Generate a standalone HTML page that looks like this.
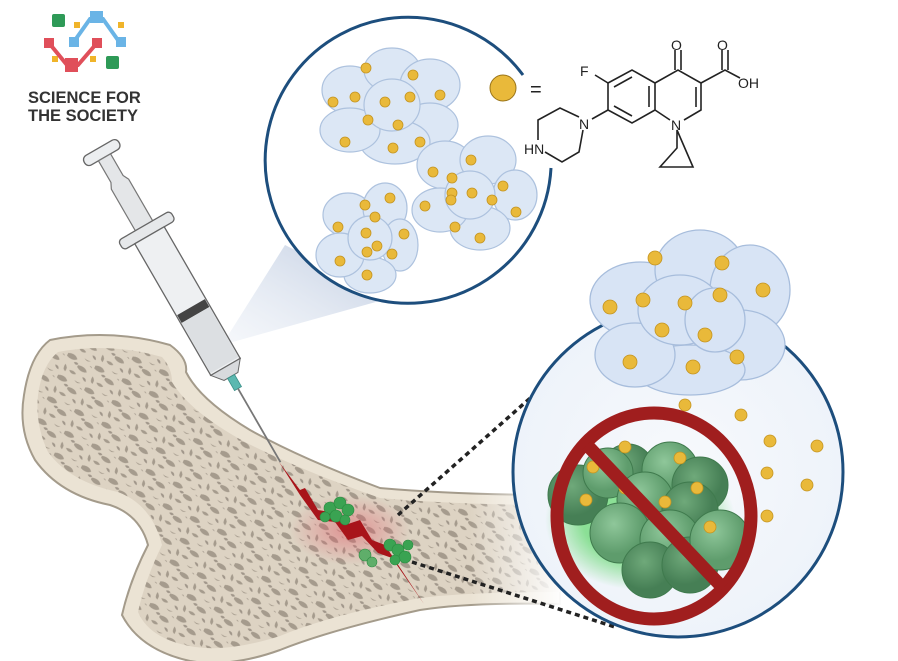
<!DOCTYPE html>
<html><head><meta charset="utf-8"><style>
html,body{margin:0;padding:0;background:#fff;}
svg{display:block;}
text{font-family:"Liberation Sans",sans-serif;}
</style></head><body>
<svg width="898" height="661" viewBox="0 0 898 661" xmlns="http://www.w3.org/2000/svg">
<defs>
<radialGradient id="rc" cx="0.5" cy="0.5" r="0.5"><stop offset="0" stop-color="#f7f9fc"/><stop offset="1" stop-color="#eef3fa"/></radialGradient>
<linearGradient id="cone" x1="1" y1="0" x2="0" y2="1"><stop offset="0" stop-color="#b9c7de" stop-opacity="0.9"/><stop offset="1" stop-color="#e8edf5" stop-opacity="0.4"/></linearGradient>
<linearGradient id="fade" x1="0" y1="0" x2="1" y2="0"><stop offset="0" stop-color="#fff" stop-opacity="0"/><stop offset="1" stop-color="#fff" stop-opacity="1"/></linearGradient>
<radialGradient id="glow"><stop offset="0.6" stop-color="#5fd66a" stop-opacity="0.7"/><stop offset="1" stop-color="#5fd66a" stop-opacity="0"/></radialGradient>
<radialGradient id="gc" cx="0.4" cy="0.35"><stop offset="0" stop-color="#8fc79a"/><stop offset="1" stop-color="#5e9c6c"/></radialGradient>
<radialGradient id="gd" cx="0.4" cy="0.35"><stop offset="0" stop-color="#6fa97a"/><stop offset="1" stop-color="#467f55"/></radialGradient>
<radialGradient id="red"><stop offset="0" stop-color="#e05060" stop-opacity="0.5"/><stop offset="1" stop-color="#e05060" stop-opacity="0"/></radialGradient>
<pattern id="tex" width="30" height="24" patternUnits="userSpaceOnUse" patternTransform="rotate(25)">
<rect width="30" height="24" fill="#ddd3c3"/>
<path d="M1 3 q7 -3 11 2 q-4 4 -11 1z M15 10 q8 -2 11 3 q-5 3 -11 -1z M3 14 q4 2 3 7 q-4 -1 -3 -7z M18 1 q4 1 7 0 q-3 3 -7 0z M9 18 q5 -2 8 1 q-4 3 -8 -1z" fill="#a59b8d"/>
<path d="M10 9 q3 -2 5 0 q-2 3 -5 0z M24 19 q4 -1 5 3 q-3 0 -5 -3z M26 6 q2 -1 3 1z" fill="#a0968a"/>
</pattern>
</defs>

<!-- logo -->
<rect x="52" y="14" width="13" height="13" rx="2" fill="#2e9a57"/>
<rect x="74" y="22" width="6" height="6" fill="#f0b42a"/>
<rect x="118" y="22" width="6" height="6" fill="#f0b42a"/>
<rect x="52" y="56" width="6" height="6" fill="#f0b42a"/>
<rect x="90" y="56" width="6" height="6" fill="#f0b42a"/>
<rect x="106" y="56" width="13" height="13" rx="2" fill="#2e9a57"/>
<path d="M73 43 L90 19 L103 19 L120 43" stroke="#6ab4e6" stroke-width="4" fill="none"/>
<rect x="90" y="11" width="13" height="12" fill="#6ab4e6"/>
<rect x="69" y="37" width="10" height="10" fill="#6ab4e6"/>
<rect x="116" y="37" width="10" height="10" fill="#6ab4e6"/>
<path d="M49 43 L67 65 L78 65 L97 43" stroke="#e04f5a" stroke-width="4" fill="none"/>
<rect x="44" y="38" width="10" height="10" fill="#e04f5a"/>
<rect x="92" y="38" width="10" height="10" fill="#e04f5a"/>
<rect x="65" y="58" width="13" height="14" fill="#e04f5a"/>
<text x="28" y="103" font-size="16.5" font-weight="bold" fill="#333">SCIENCE FOR</text>
<text x="28" y="121" font-size="16.5" font-weight="bold" fill="#333">THE SOCIETY</text>

<!-- cone -->
<polygon points="285,245 390,298 222,345" fill="url(#cone)"/>

<!-- bone -->
<path d="M50 340 Q110 328 170 345 Q188 358 186 372 Q200 400 250 430 Q300 458 380 488 Q460 495 560 495 L560 604 Q470 602 420 610 Q330 630 280 650 Q230 668 190 661 Q140 650 122 615 Q130 580 148 545 Q140 515 110 505 Q60 495 35 460 Q18 430 24 395 Q30 355 50 340Z" fill="#ebe3d4" stroke="#a49b8b" stroke-width="2"/>
<path d="M58 352 Q110 342 162 357 Q172 368 172 382 Q190 412 245 442 Q300 470 380 498 Q460 505 560 505 L560 592 Q470 592 420 598 Q330 615 280 636 Q230 652 195 647 Q150 640 138 612 Q145 580 162 545 Q152 505 118 492 Q70 482 48 452 Q35 425 38 395 Q42 365 58 352Z" fill="url(#tex)"/>
<rect x="470" y="480" width="95" height="140" fill="url(#fade)"/>
<!-- crack -->
<ellipse cx="350" cy="530" rx="60" ry="35" fill="url(#red)"/>
<path d="M279 462 L300 490 L305 488 L318 510 L330 512 L345 525 L360 520 L372 540 L385 545 L424 604 L392 558 L378 553 L362 536 L348 540 L335 522 L318 520 L300 495 Z" fill="#a8141a"/>
<g fill="#3aa352" stroke="#2b8a40" stroke-width="0.6">
<circle cx="330" cy="508" r="6"/><circle cx="340" cy="503" r="6"/><circle cx="348" cy="510" r="6"/><circle cx="336" cy="516" r="6"/><circle cx="345" cy="520" r="5"/><circle cx="325" cy="517" r="5"/>
<circle cx="390" cy="545" r="6"/><circle cx="398" cy="550" r="6"/><circle cx="405" cy="557" r="6"/><circle cx="395" cy="560" r="5"/><circle cx="408" cy="545" r="5"/>
<circle cx="365" cy="555" r="6" fill="#5fae6a"/><circle cx="372" cy="562" r="5" fill="#5fae6a"/>
</g>

<!-- syringe -->
<g transform="translate(102,153) rotate(-30)">
<rect x="-20" y="-6" width="40" height="11" rx="5" fill="#eceef0" stroke="#666" stroke-width="1.3"/>
<path d="M-7 5 L7 5 L7 30 L10 36 L10 90 L-10 90 L-10 36 L-7 30Z" fill="#e4e6e8" stroke="#777" stroke-width="1.2"/>
<rect x="-30" y="84" width="60" height="11" rx="4" fill="#e6e8ea" stroke="#666" stroke-width="1.3"/>
<rect x="-17" y="95" width="34" height="152" fill="#eef0f2" stroke="#666" stroke-width="1.3"/>
<rect x="-16" y="178" width="32" height="9" fill="#444"/>
<rect x="-16" y="187" width="32" height="58" fill="#dcdfe2"/>
<polygon points="-17,247 17,247 8,258 -8,258" fill="#d8dadd" stroke="#666"/>
<rect x="-4" y="258" width="8" height="14" fill="#5cb8b0" stroke="#3b8f88" stroke-width="0.8"/>
<line x1="0" y1="272" x2="0" y2="357" stroke="#777" stroke-width="1.8"/>
</g>

<!-- dotted lines -->
<line x1="398" y1="515" x2="545" y2="385" stroke="#222" stroke-width="3.5" stroke-dasharray="5,4"/>
<line x1="412" y1="562" x2="615" y2="627" stroke="#222" stroke-width="3.5" stroke-dasharray="5,4"/>

<!-- top circle -->
<circle cx="408" cy="160" r="142" fill="#fff"/>
<path d="M551 168 A143 143 0 1 1 523 75" fill="none" stroke="#1d4e7d" stroke-width="3"/>
<g fill="#dbe6f5" stroke="#a9bfdd" stroke-width="1.2" opacity="0.95">
<ellipse cx="350" cy="90" rx="28" ry="24"/><ellipse cx="392" cy="70" rx="28" ry="22"/><ellipse cx="430" cy="85" rx="30" ry="26"/><ellipse cx="430" cy="125" rx="28" ry="22"/><ellipse cx="395" cy="142" rx="35" ry="22"/><ellipse cx="350" cy="130" rx="30" ry="22"/><ellipse cx="392" cy="105" rx="28" ry="26"/>
<ellipse cx="445" cy="165" rx="28" ry="24"/><ellipse cx="488" cy="160" rx="28" ry="24"/><ellipse cx="515" cy="195" rx="22" ry="25"/><ellipse cx="480" cy="228" rx="30" ry="22"/><ellipse cx="440" cy="210" rx="28" ry="22"/><ellipse cx="470" cy="195" rx="25" ry="24"/>
<ellipse cx="348" cy="215" rx="25" ry="22"/><ellipse cx="385" cy="208" rx="22" ry="25"/><ellipse cx="400" cy="245" rx="18" ry="26"/><ellipse cx="370" cy="275" rx="26" ry="18"/><ellipse cx="340" cy="255" rx="24" ry="22"/><ellipse cx="370" cy="238" rx="22" ry="22"/>
</g>
<g fill="#e9b93a" stroke="#c49420" stroke-width="0.8">
<circle cx="366" cy="68" r="5"/><circle cx="413" cy="75" r="5"/><circle cx="333" cy="102" r="5"/><circle cx="355" cy="97" r="5"/><circle cx="385" cy="102" r="5"/><circle cx="410" cy="97" r="5"/><circle cx="440" cy="95" r="5"/><circle cx="368" cy="120" r="5"/><circle cx="398" cy="125" r="5"/><circle cx="345" cy="142" r="5"/><circle cx="393" cy="148" r="5"/><circle cx="420" cy="142" r="5"/>
<circle cx="471" cy="160" r="5"/><circle cx="433" cy="172" r="5"/><circle cx="452" cy="178" r="5"/><circle cx="503" cy="186" r="5"/><circle cx="452" cy="193" r="5"/><circle cx="472" cy="193" r="5"/><circle cx="425" cy="206" r="5"/><circle cx="451" cy="200" r="5"/><circle cx="492" cy="200" r="5"/><circle cx="516" cy="212" r="5"/><circle cx="455" cy="227" r="5"/><circle cx="480" cy="238" r="5"/>
<circle cx="365" cy="205" r="5"/><circle cx="390" cy="198" r="5"/><circle cx="338" cy="227" r="5"/><circle cx="375" cy="217" r="5"/><circle cx="366" cy="233" r="5"/><circle cx="404" cy="234" r="5"/><circle cx="377" cy="246" r="5"/><circle cx="367" cy="252" r="5"/><circle cx="392" cy="254" r="5"/><circle cx="340" cy="261" r="5"/><circle cx="367" cy="275" r="5"/>
</g>

<!-- molecule -->
<circle cx="503" cy="88" r="13" fill="#e9b93a" stroke="#9a7418"/>
<text x="530" y="96" font-size="20" fill="#222">=</text>
<g stroke="#222" stroke-width="1.6" fill="none">
<path d="M608 83 L632 70 L655 83 L655 110 L632 123 L608 110 Z"/>
<path d="M614 87 L632 77 M649 86 L649 107 M614 106 L632 116"/>
<path d="M655 83 L678 70 L701 83 L701 110 L684 120 M670 120 L655 110"/>
<path d="M696 87 L696 107"/>
<path d="M675 70 L675 50 M681 70 L681 50"/>
<path d="M701 83 L725 70 L740 78 M722 70 L722 50 M728 70 L728 50"/>
<path d="M608 83 L595 75"/>
<path d="M608 110 L592 119"/>
<path d="M579 117 L560 108 L538 120 L538 140 M545 152 L562 162 L579 152 L583 130"/>
<path d="M677 130 L677 148 L660 167 L693 167 Z"/>
</g>
<g font-size="14" fill="#222">
<text x="580" y="76">F</text>
<text x="671" y="50">O</text>
<text x="717" y="50">O</text>
<text x="738" y="88">OH</text>
<text x="671" y="130">N</text>
<text x="579" y="129">N</text>
<text x="524" y="154">HN</text>
</g>

<!-- right circle -->
<circle cx="678" cy="472" r="165" fill="url(#rc)" stroke="#1d4e7d" stroke-width="3"/>
<!-- flower -->
<g fill="#d8e4f5" stroke="#a7bddc" stroke-width="1.3">
<ellipse cx="640" cy="300" rx="50" ry="38"/><ellipse cx="700" cy="270" rx="45" ry="40"/><ellipse cx="750" cy="290" rx="40" ry="45"/><ellipse cx="740" cy="345" rx="45" ry="35"/><ellipse cx="690" cy="370" rx="55" ry="25"/><ellipse cx="635" cy="355" rx="40" ry="32"/>
<ellipse cx="680" cy="310" rx="42" ry="35"/><ellipse cx="715" cy="320" rx="30" ry="32"/>
</g>
<g fill="#e9b93a" stroke="#c49420" stroke-width="0.8">
<circle cx="655" cy="258" r="7"/><circle cx="722" cy="263" r="7"/><circle cx="610" cy="307" r="7"/><circle cx="643" cy="300" r="7"/><circle cx="685" cy="303" r="7"/><circle cx="720" cy="295" r="7"/><circle cx="763" cy="290" r="7"/><circle cx="662" cy="330" r="7"/><circle cx="705" cy="335" r="7"/><circle cx="630" cy="362" r="7"/><circle cx="693" cy="367" r="7"/><circle cx="737" cy="357" r="7"/>
<circle cx="685" cy="405" r="6"/><circle cx="741" cy="415" r="6"/><circle cx="770" cy="441" r="6"/><circle cx="817" cy="446" r="6"/><circle cx="767" cy="473" r="6"/><circle cx="807" cy="485" r="6"/><circle cx="767" cy="516" r="6"/>
</g>
<!-- bacteria -->
<ellipse cx="640" cy="520" rx="95" ry="70" fill="url(#glow)"/>
<g stroke="#3f7a4d" stroke-width="1">
<circle cx="628" cy="470" r="26" fill="url(#gd)"/><circle cx="578" cy="495" r="30" fill="url(#gd)"/><circle cx="608" cy="473" r="25" fill="url(#gc)"/><circle cx="670" cy="470" r="28" fill="url(#gc)"/><circle cx="700" cy="485" r="28" fill="url(#gd)"/>
<circle cx="645" cy="500" r="28" fill="url(#gc)"/><circle cx="690" cy="510" r="28" fill="url(#gd)"/>
<circle cx="620" cy="533" r="30" fill="url(#gc)"/><circle cx="670" cy="540" r="30" fill="url(#gc)"/>
<circle cx="650" cy="570" r="28" fill="url(#gd)"/><circle cx="690" cy="565" r="28" fill="url(#gd)"/><circle cx="720" cy="540" r="30" fill="url(#gc)"/>
</g>
<g fill="#e9b93a" stroke="#c49420" stroke-width="0.8">
<circle cx="625" cy="447" r="6"/><circle cx="680" cy="458" r="6"/><circle cx="593" cy="467" r="6"/><circle cx="625" cy="488" r="6"/><circle cx="697" cy="488" r="6"/><circle cx="586" cy="500" r="6"/><circle cx="665" cy="502" r="6"/><circle cx="710" cy="527" r="6"/>
</g>
<!-- prohibition -->
<ellipse cx="654" cy="516" rx="97" ry="103" fill="none" stroke="#a01e1e" stroke-width="13"/>
<line x1="587" y1="445" x2="723" y2="588" stroke="#a01e1e" stroke-width="13"/>
</svg>
</body></html>
